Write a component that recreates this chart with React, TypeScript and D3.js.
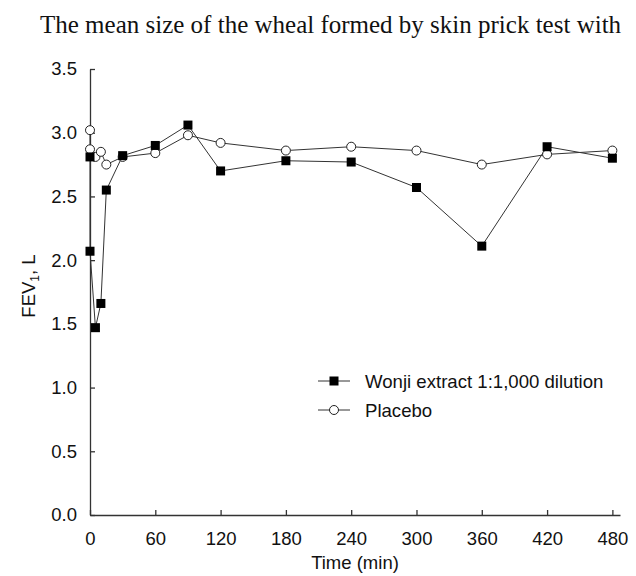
import React, { useEffect, useRef } from 'react';
import * as d3 from 'd3';

// data
const times = [0, 0, 5, 10, 15, 30, 60, 90, 120, 180, 240, 300, 360, 420, 480];
const wonji = [2.81, 2.07, 1.47, 1.66, 2.55, 2.82, 2.90, 3.06, 2.70, 2.78, 2.77, 2.57, 2.11, 2.89, 2.80];
const placebo = [3.02, 2.87, 2.81, 2.85, 2.75, 2.81, 2.84, 2.98, 2.92, 2.86, 2.89, 2.86, 2.75, 2.83, 2.86];
const seriesNames = ['Wonji extract 1:1,000 dilution', 'Placebo'];
const xTicks = [0, 60, 120, 180, 240, 300, 360, 420, 480];
const yTicks = [0, 0.5, 1, 1.5, 2, 2.5, 3, 3.5];
const title = 'The mean size of the wheal formed by skin prick test with';

const width = 636;
const height = 576;
const margin = { top: 69, right: 16, bottom: 61, left: 90 };
const sans = '"Liberation Sans", Arial, sans-serif';

export default function App() {
  const node = useRef<SVGSVGElement>(null);

  useEffect(() => {
    const svg = d3.select(node.current);
    svg.selectAll('*').remove();

    const x = d3.scaleLinear().domain([0, 487]).range([margin.left, width - margin.right]);
    const y = d3.scaleLinear().domain([0, 3.5]).range([height - margin.bottom, margin.top]);

    // title
    svg.append('text')
      .attr('x', 40)
      .attr('y', 33)
      .attr('font-family', '"Liberation Serif", "Times New Roman", serif')
      .attr('font-size', 25)
      .attr('fill', '#111')
      .text(title);

    // axes
    const xAxisGroup = svg.append('g')
      .attr('transform', `translate(0, ${y(0)})`)
      .call(d3.axisBottom(x).tickValues(xTicks).tickSize(-5).tickSizeOuter(0).tickPadding(17));

    const yAxisGroup = svg.append('g')
      .attr('transform', `translate(${x(0)}, 0)`)
      .call(d3.axisLeft(y).tickValues(yTicks).tickSize(-5).tickSizeOuter(0).tickPadding(13)
        .tickFormat(d3.format('.1f')));

    [xAxisGroup, yAxisGroup].forEach(g => {
      g.selectAll('path, line').attr('stroke', '#333').attr('stroke-width', 1.3);
      g.selectAll('text')
        .attr('font-family', sans)
        .attr('font-size', 18.5)
        .attr('fill', '#111');
    });

    // axis titles
    svg.append('text')
      .attr('x', (x(0) + x(487)) / 2)
      .attr('y', 569)
      .attr('text-anchor', 'middle')
      .attr('font-family', sans)
      .attr('font-size', 18.5)
      .attr('fill', '#111')
      .text('Time (min)');

    const yLabel = svg.append('text')
      .attr('transform', 'translate(35, 286) rotate(-90)')
      .attr('text-anchor', 'middle')
      .attr('font-family', sans)
      .attr('font-size', 18.5)
      .attr('fill', '#111');
    yLabel.append('tspan').text('FEV');
    yLabel.append('tspan').attr('font-size', 12).attr('dy', 4).text('1');
    yLabel.append('tspan').attr('dy', -4).text(', L');

    // lines + markers
    const line = d3.line<number>()
      .x((d, i) => x(times[i]))
      .y(d => y(d));

    const plot = svg.append('g');

    [placebo, wonji].forEach(series => {
      plot.append('path')
        .datum(series)
        .attr('d', line)
        .attr('fill', 'none')
        .attr('stroke', '#333')
        .attr('stroke-width', 1);
    });

    plot.selectAll('circle.pl')
      .data(placebo)
      .enter()
      .append('circle')
      .attr('class', 'pl')
      .attr('cx', (d, i) => x(times[i]))
      .attr('cy', d => y(d))
      .attr('r', 4.5)
      .attr('fill', '#fff')
      .attr('stroke', '#222')
      .attr('stroke-width', 1);

    plot.selectAll('rect.wj')
      .data(wonji)
      .enter()
      .append('rect')
      .attr('class', 'wj')
      .attr('x', (d, i) => x(times[i]) - 4.5)
      .attr('y', d => y(d) - 4.5)
      .attr('width', 9)
      .attr('height', 9)
      .attr('fill', '#000');

    // legend
    const legend = svg.append('g').attr('transform', 'translate(318, 381)');
    seriesNames.forEach((name, i) => {
      const row = legend.append('g').attr('transform', `translate(0, ${i * 29})`);
      row.append('line')
        .attr('x1', 0).attr('x2', 32)
        .attr('stroke', '#333').attr('stroke-width', 1);
      if (i === 0) {
        row.append('rect')
          .attr('x', 11.5).attr('y', -4.5)
          .attr('width', 9).attr('height', 9)
          .attr('fill', '#000');
      } else {
        row.append('circle')
          .attr('cx', 16).attr('r', 4.5)
          .attr('fill', '#fff').attr('stroke', '#222');
      }
      row.append('text')
        .attr('x', 47)
        .attr('dy', '0.35em')
        .attr('font-family', sans)
        .attr('font-size', 18.6)
        .attr('fill', '#111')
        .text(name);
    });
  }, []);

  return (
    <svg
      ref={node}
      width={width}
      height={height}
      style={{ position: 'absolute', left: 0, top: 0, background: '#fff' }}
    />
  );
}
